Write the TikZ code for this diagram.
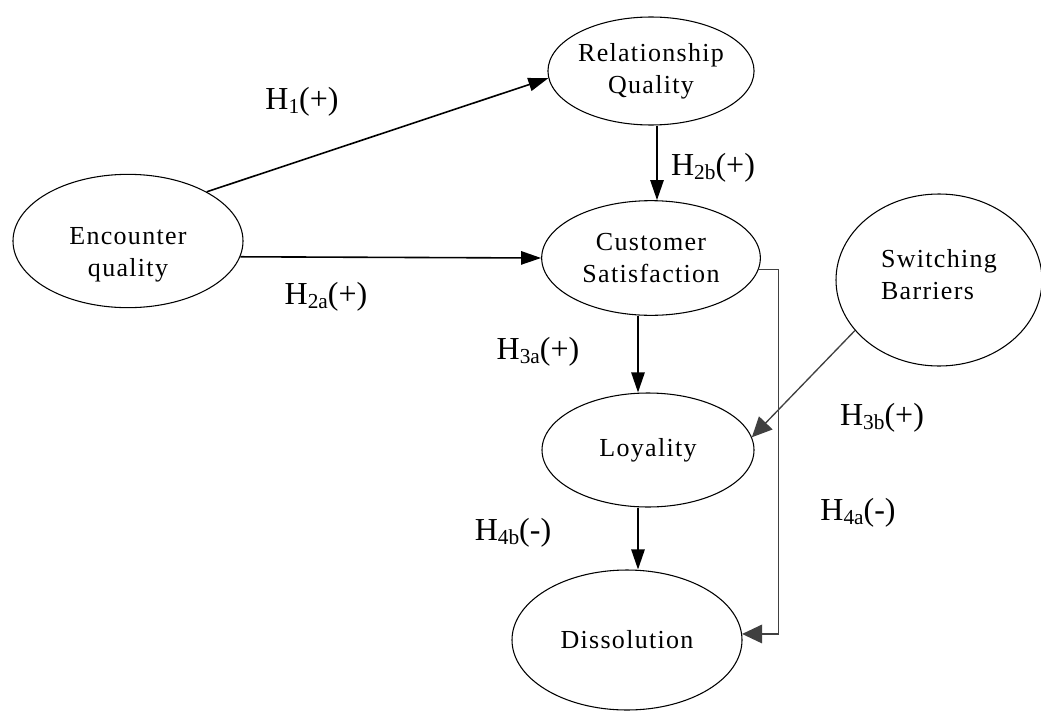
\documentclass[tikz,border=0pt]{standalone}
\usepackage{fontspec}
\setmainfont{Liberation Serif}
\newfontfamily\boxfont[LetterSpace=5]{Liberation Serif}
\usetikzlibrary{arrows.meta,shapes.geometric}

\newcommand{\hyp}[2]{H\raisebox{-3pt}{\fontsize{16}{16}\selectfont #1}(#2)}

\tikzset{
  construct/.style={ellipse, draw, line width=0.8pt, inner sep=0pt, align=center,
    font=\boxfont\fontsize{19.5}{24}\selectfont},
  link/.style={line width=1.2pt, -{Triangle[length=15pt,width=10pt]}},
  graylink/.style={line width=1pt, draw=black!75, -{Triangle[length=15pt,width=14pt,fill=black!75]}},
  hyplabel/.style={font=\fontsize{24}{28}\selectfont}
}

\begin{document}
\begin{tikzpicture}[x=0.75pt,y=-0.75pt]
  \useasboundingbox (0,0) rectangle (1041,710);

  % Constructs
  \node[construct, minimum width=152pt, minimum height=81pt] (rel) at (651,71) {Relationship\\Quality};
  \node[construct, minimum width=172.5pt, minimum height=100pt] (enc) at (128,241) {\rule{0pt}{34pt}Encounter\\quality};
  \node[construct, minimum width=164pt, minimum height=86pt] (sat) at (651,258) {Customer\\Satisfaction};
  \node[construct, minimum width=154.5pt, minimum height=129pt, align=left] (sw) at (939,280) {Switching\\Barriers\rule[-9pt]{0pt}{9pt}};
  \node[construct, minimum width=159pt, minimum height=85.5pt] (loy) at (648,450) {Loyality};
  \node[construct, minimum width=172.5pt, minimum height=105pt] (diss) at (627,640) {Dissolution};

  % Hypotheses
  \draw[link] (enc.32) -- (rel.184);
  \draw[link] (enc.-8) -- (sat.west);
  \draw[link] ([xshift=4.5pt]rel.south) -- ([xshift=4.5pt]sat.north);
  \draw[link] ([xshift=-9.75pt]sat.south) -- ([xshift=-7.5pt]loy.north);
  \draw[link] ([xshift=-7.5pt]loy.south) -- ([xshift=8.25pt]diss.north);
  \draw[graylink] (sw.211) -- (loy.7);
  \draw[graylink] (sat.-6) -- ++(20,0) |- (diss.3);

  % Labels
  \node[hyplabel] (h1) at (302,102) {\hyp{1}{+}};
  \node[hyplabel] (h2b) at (713,168) {\hyp{2b}{+}};
  \node[hyplabel] (h2a) at (326,297) {\hyp{2a}{+}};
  \node[hyplabel] (h3a) at (538,352) {\hyp{3a}{+}};
  \node[hyplabel] (h3b) at (882,418) {\hyp{3b}{+}};
  \node[hyplabel] (h4a) at (858,513) {\hyp{4a}{-}};
  \node[hyplabel] (h4b) at (513,533) {\hyp{4b}{-}};
\end{tikzpicture}
\end{document}
